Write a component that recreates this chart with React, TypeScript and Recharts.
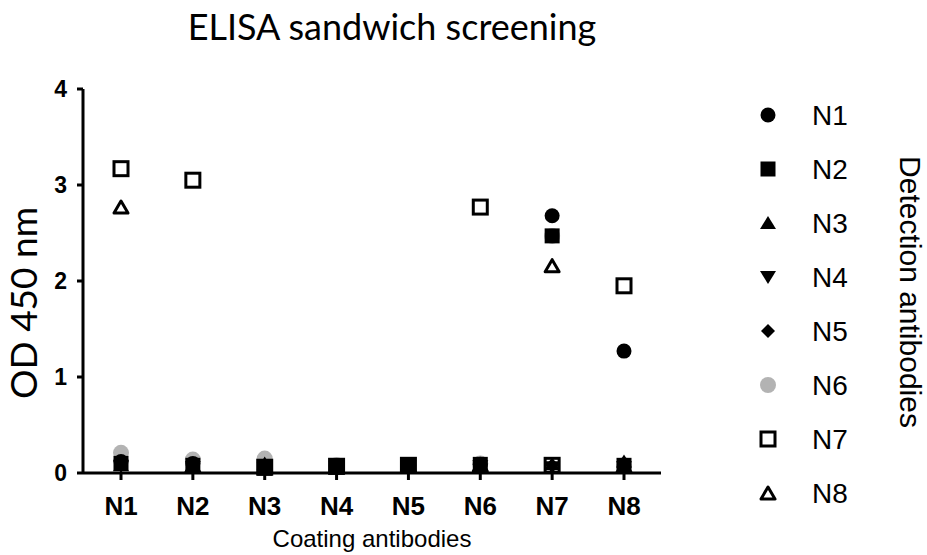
import React from "react";
import { ComposedChart, Scatter, XAxis, YAxis } from "recharts";

// coating antibodies on the x axis, one series per detection antibody
const coating = ["N1", "N2", "N3", "N4", "N5", "N6", "N7", "N8"];
const detection = ["N1", "N2", "N3", "N4", "N5", "N6", "N7", "N8"];
const yTicks = [0, 1, 2, 3, 4];

const n1 = [0.12, 0.1, 0.06, 0.07, 0.08, 0.09, 2.68, 1.27];
const n2 = [0.1, 0.08, 0.05, 0.07, 0.08, 0.09, 2.47, 0.08];
const n3 = [0.08, 0.07, 0.1, 0.06, 0.07, 0.08, 0.09, 0.12];
const n4 = [0.07, 0.06, 0.05, 0.06, 0.07, 0.07, 0.06, 0.06];
const n5 = [0.09, 0.08, 0.06, 0.07, 0.08, 0.08, 0.08, 0.09];
const n6 = [0.21, 0.14, 0.15, 0.08, 0.08, 0.1, 2.47, 0.08];
const n7 = [3.17, 3.05, 0.06, 0.07, 0.08, 2.77, 0.08, 1.95];
const n8 = [2.77, 0.07, 0.06, 0.06, 0.07, 0.08, 2.16, 0.07];

const seriesValues = [n1, n2, n3, n4, n5, n6, n7, n8];
const markerKinds = ["circle", "square", "up", "down", "diamond", "gray", "openSquare", "openUp"];
// gray first so it sits behind the black markers
const drawOrder = [5, 6, 7, 0, 1, 2, 3, 4];

const data = coating.map((c, i) => {
  const row: Record<string, string | number> = { coat: c };
  detection.forEach((d, j) => {
    row[d] = seriesValues[j][i];
  });
  return row;
});

const INK = "#000";
const SANS = "'Liberation Sans', Arial, sans-serif";
const HUMANIST = "Lato, 'Open Sans', sans-serif";

function Marker({ kind, cx, cy }: { kind: string; cx: number; cy: number }) {
  switch (kind) {
    case "circle":
      return <circle cx={cx} cy={cy} r={7.5} fill={INK} />;
    case "gray":
      return <circle cx={cx} cy={cy} r={8} fill="#b3b3b3" />;
    case "square":
      return <rect x={cx - 7.5} y={cy - 7.5} width={15} height={15} fill={INK} />;
    case "up":
      return <polygon points={`${cx},${cy - 7} ${cx + 8},${cy + 6} ${cx - 8},${cy + 6}`} fill={INK} />;
    case "down":
      return <polygon points={`${cx - 8},${cy - 6} ${cx + 8},${cy - 6} ${cx},${cy + 7}`} fill={INK} />;
    case "diamond":
      return <polygon points={`${cx},${cy - 7} ${cx + 7},${cy} ${cx},${cy + 7} ${cx - 7},${cy}`} fill={INK} />;
    case "openSquare":
      return <rect x={cx - 7} y={cy - 7} width={14} height={14} fill="none" stroke={INK} strokeWidth={3} />;
    case "openUp":
      return (
        <polygon
          points={`${cx},${cy - 6} ${cx + 7},${cy + 6} ${cx - 7},${cy + 6}`}
          fill="none"
          stroke={INK}
          strokeWidth={3}
          strokeLinejoin="round"
        />
      );
    default:
      return null;
  }
}

export default function App() {
  return (
    <div style={{ position: "absolute", left: 0, top: 0, width: 927, height: 555, background: "#fff" }}>
      <ComposedChart width={927} height={555} data={data} margin={{ top: 89, right: 266, bottom: 32, left: 23 }}>
        <XAxis
          dataKey="coat"
          type="category"
          height={50}
          padding={{ left: 38, right: 37 }}
          axisLine={{ stroke: INK, strokeWidth: 3 }}
          tickLine={{ stroke: INK, strokeWidth: 3 }}
          tickSize={7}
          tickMargin={17}
          tick={{ fill: INK, fontSize: 26, fontWeight: 700, fontFamily: SANS }}
        />
        <YAxis
          type="number"
          domain={[0, 4]}
          ticks={yTicks}
          width={60}
          axisLine={{ stroke: INK, strokeWidth: 3 }}
          tickLine={{ stroke: INK, strokeWidth: 3 }}
          tickSize={6}
          tickMargin={10}
          tick={{ fill: INK, fontSize: 23, fontWeight: 700, fontFamily: SANS }}
        />
        {drawOrder.map((j) => (
          <Scatter
            key={detection[j]}
            name={detection[j]}
            dataKey={detection[j]}
            isAnimationActive={false}
            shape={(p: any) => <Marker kind={markerKinds[j]} cx={p.cx} cy={p.cy} />}
          />
        ))}
      </ComposedChart>

      <svg width={927} height={555} style={{ position: "absolute", left: 0, top: 0, pointerEvents: "none" }}>
        <text x={392} y={40} textAnchor="middle" fontSize={36} fontFamily={HUMANIST} fill={INK}>
          ELISA sandwich screening
        </text>
        <text
          transform="translate(37,303) rotate(-90)"
          textAnchor="middle"
          fontSize={37}
          fontFamily={HUMANIST}
          fill={INK}
        >
          OD 450 nm
        </text>
        <text x={372} y={547} textAnchor="middle" fontSize={24} fontFamily={SANS} fill={INK}>
          Coating antibodies
        </text>

        {detection.map((d, j) => {
          const y = 115 + j * 54;
          return (
            <g key={d}>
              <Marker kind={markerKinds[j]} cx={768} cy={y} />
              <text x={812} y={y + 10} fontSize={28} fontFamily={SANS} fill={INK}>
                {d}
              </text>
            </g>
          );
        })}
        <text
          transform="translate(900,292) rotate(90)"
          textAnchor="middle"
          fontSize={30}
          fontFamily={SANS}
          fill={INK}
        >
          Detection antibodies
        </text>
      </svg>
    </div>
  );
}
